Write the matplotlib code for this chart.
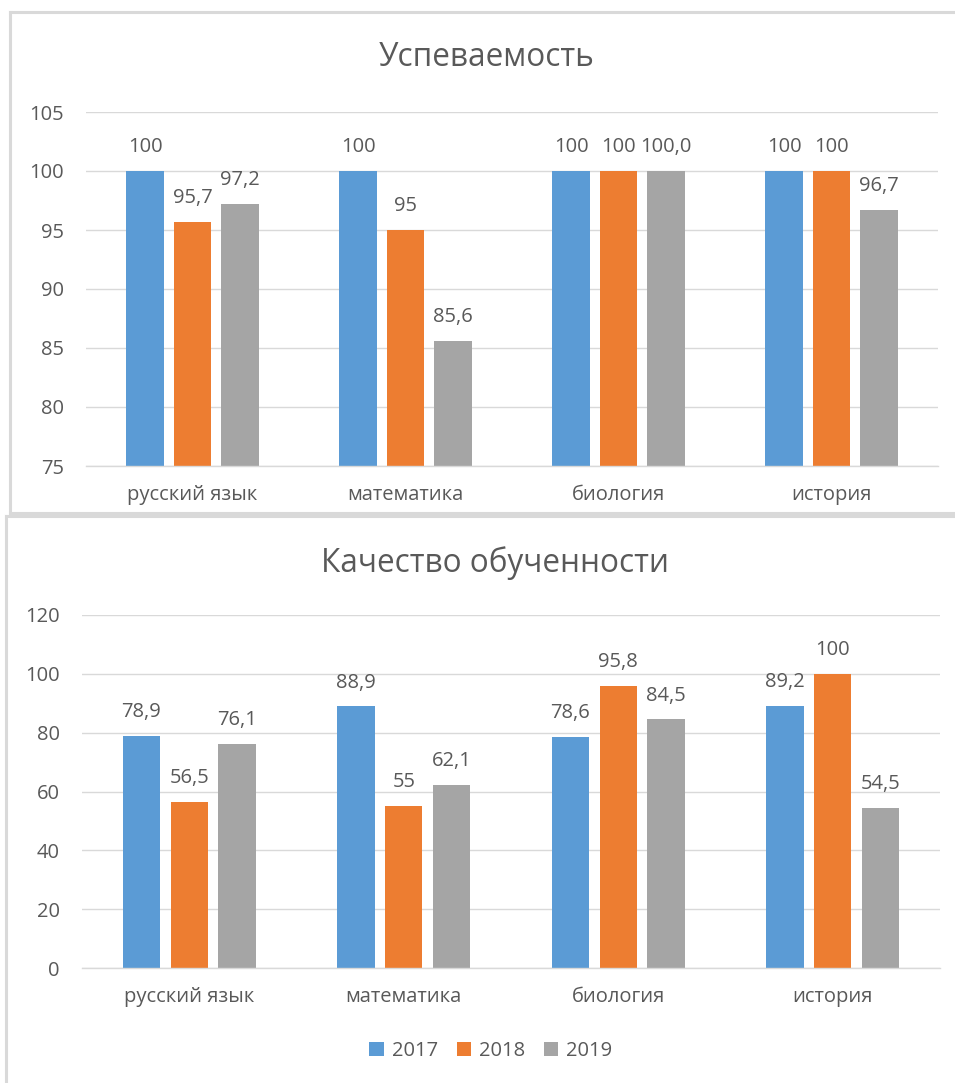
import matplotlib
matplotlib.use("Agg")
import matplotlib.pyplot as plt
from matplotlib.patches import Patch
from matplotlib.lines import Line2D

plt.rcParams['font.family'] = ['Open Sans', 'DejaVu Sans']

categories = ["русский язык", "математика", "биология", "история"]
years = ["2017", "2018", "2019"]
colors = ["#5B9BD5", "#ED7D31", "#A5A5A5"]

# Успеваемость
perf_2017 = [100, 100, 100, 100]
perf_2018 = [95.7, 95, 100, 100]
perf_2019 = [97.2, 85.6, 100.0, 96.7]
perf_labels_2017 = ["100", "100", "100", "100"]
perf_labels_2018 = ["95,7", "95", "100", "100"]
perf_labels_2019 = ["97,2", "85,6", "100,0", "96,7"]
perf_ticks = [75, 80, 85, 90, 95, 100, 105]

# Качество обученности
qual_2017 = [78.9, 88.9, 78.6, 89.2]
qual_2018 = [56.5, 55, 95.8, 100]
qual_2019 = [76.1, 62.1, 84.5, 54.5]
qual_labels_2017 = ["78,9", "88,9", "78,6", "89,2"]
qual_labels_2018 = ["56,5", "55", "95,8", "100"]
qual_labels_2019 = ["76,1", "62,1", "84,5", "54,5"]
qual_ticks = [0, 20, 40, 60, 80, 100, 120]

W, H = 955, 1083
fig = plt.figure(figsize=(W / 100, H / 100), dpi=100)
fig.patch.set_facecolor("white")

TXT = "#595959"
GRID = "#D9D9D9"
FS = 14.5


def px_axes(left, right, top, bottom):
    return fig.add_axes([left / W, 1 - bottom / H, (right - left) / W, (bottom - top) / H])


def draw(ax, series, labels, ticks, title_x, title_y, title):
    n = len(series)
    width = 0.174
    step = 0.223
    xs = list(range(len(categories)))
    for i, (vals, labs) in enumerate(zip(series, labels)):
        pos = [x + (i - (n - 1) / 2) * step for x in xs]
        bars = ax.bar(pos, [v - ticks[0] for v in vals], width, bottom=ticks[0],
                      color=colors[i], zorder=3)
        ax.bar_label(bars, labels=labs, padding=10, fontsize=FS, color=TXT)
    ax.set_xlim(-0.5, len(categories) - 0.5)
    ax.set_ylim(ticks[0], ticks[-1])
    ax.set_yticks(ticks)
    ax.set_yticklabels([str(t) for t in ticks])
    ax.set_xticks(xs)
    ax.set_xticklabels(categories)
    ax.tick_params(axis='both', length=0, labelsize=FS, labelcolor=TXT)
    ax.tick_params(axis='y', pad=16)
    ax.tick_params(axis='x', pad=14)
    ax.grid(axis='y', color=GRID, linewidth=1, zorder=0)
    for s in ["top", "right", "left"]:
        ax.spines[s].set_visible(False)
    ax.spines["bottom"].set_color(GRID)
    ax.spines["bottom"].set_linewidth(1)
    ax.spines["bottom"].set_zorder(4)
    ax.set_facecolor("none")
    fig.text(title_x / W, 1 - title_y / H, title,
             ha='center', va='center', fontsize=22.7, color=TXT)


ax1 = px_axes(86, 938, 112, 466)
draw(ax1, [perf_2017, perf_2018, perf_2019],
     [perf_labels_2017, perf_labels_2018, perf_labels_2019], perf_ticks, 487, 57, "Успеваемость")

ax2 = px_axes(82, 940, 615, 968)
draw(ax2, [qual_2017, qual_2018, qual_2019],
     [qual_labels_2017, qual_labels_2018, qual_labels_2019], qual_ticks, 495, 563,
     "Качество обученности")

# chart borders
def hline(x0, x1, y):
    fig.add_artist(Line2D([x0 / W, x1 / W], [1 - y / H, 1 - y / H], color=GRID, lw=2.2,
                          transform=fig.transFigure))


def vline(x, y0, y1):
    fig.add_artist(Line2D([x / W, x / W], [1 - y0 / H, 1 - y1 / H], color=GRID, lw=2.2,
                          transform=fig.transFigure))

hline(10, W, 12)
vline(10, 12, 513)
hline(10, W, 513)
hline(6, W, 516)
vline(6, 516, H)

handles = [Patch(facecolor=c, edgecolor='none') for c in colors]
fig.legend(handles, years, loc='center', bbox_to_anchor=(491 / W, 1 - 1051 / H), ncol=3,
           frameon=False, fontsize=FS, labelcolor=TXT, handlelength=0.7, handleheight=0.7,
           handletextpad=0.4, columnspacing=0.95)

fig.savefig("out.png", dpi=100, facecolor="white")
